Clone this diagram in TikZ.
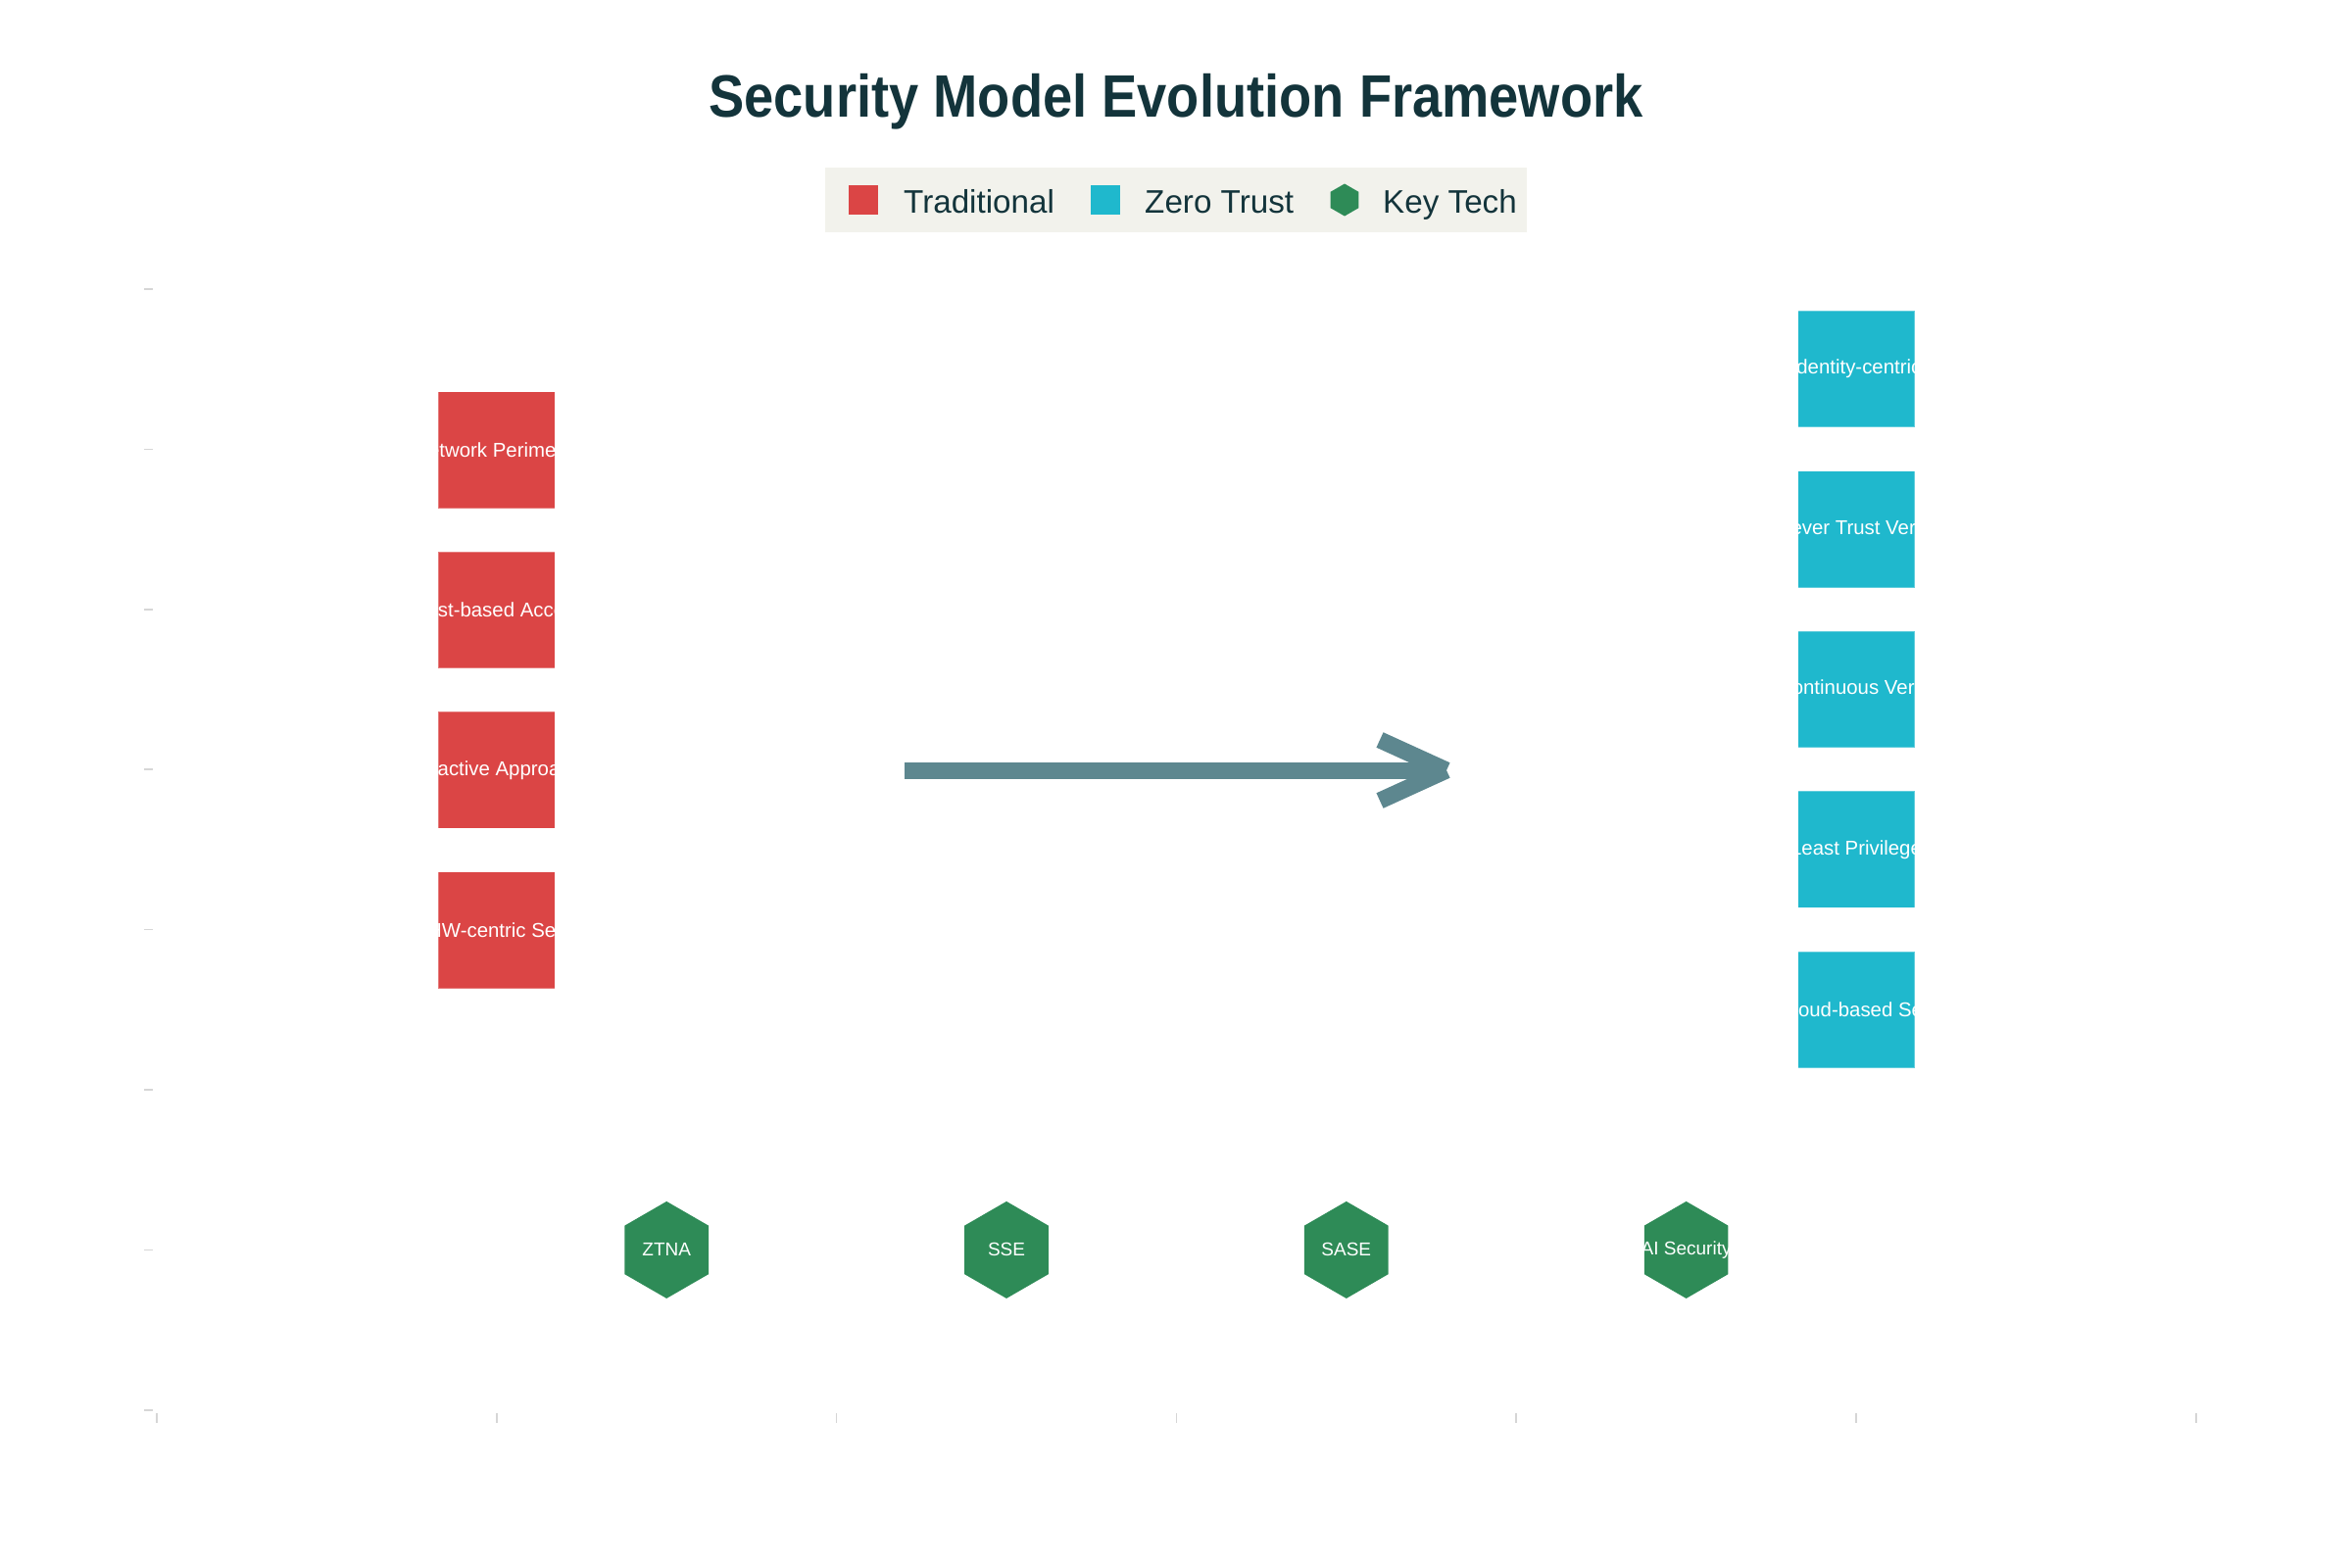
\documentclass[tikz,border=0pt]{standalone}
\usepackage{fontspec}
\setmainfont{Liberation Sans}
\usepackage{graphicx}
\usetikzlibrary{calc}
\definecolor{tradred}{HTML}{DB4545}
\definecolor{ztteal}{HTML}{1FB8CD}
\definecolor{techgreen}{HTML}{2E8B57}
\definecolor{arrowcol}{HTML}{5D878F}
\definecolor{titlecol}{HTML}{13343B}
\definecolor{legendbg}{HTML}{F2F2EC}
\definecolor{tickgray}{HTML}{D6D6D6}
\newcommand{\techhex}[3]{%
  \path[#3] ($(#1)+(90:#2)$) -- ($(#1)+(150:#2)$) -- ($(#1)+(210:#2)$) --
    ($(#1)+(270:#2)$) -- ($(#1)+(330:#2)$) -- ($(#1)+(30:#2)$) -- cycle;}
\begin{document}
\begin{tikzpicture}[x=1pt,y=-1pt,
  redbox/.style={rectangle, fill=tradred, draw=white, draw opacity=0.3, line width=1.5pt,
    minimum width=119pt, minimum height=119pt, inner sep=0pt},
  tealbox/.style={redbox, fill=ztteal},
  boxlabel/.style={text=white, font=\fontsize{20.4}{24}\selectfont, inner sep=0pt},
  hexlabel/.style={text=white, font=\fontsize{19}{22}\selectfont, inner sep=0pt},
  legendtext/.style={text=titlecol, font=\fontsize{33.2}{38}\selectfont, inner sep=0pt, anchor=base west},
  tickmark/.style={draw=tickgray, line width=1.5pt},
  arrowline/.style={draw=arrowcol, line width=17pt, line cap=butt},
  hexfill/.style={fill=techgreen}
]
\useasboundingbox (0,0) rectangle (2400,1600);
\fill[white] (0,0) rectangle (2400,1600);

% title
\node[text=titlecol, font=\fontsize{61}{66}\selectfont\bfseries, inner sep=0pt, anchor=base]
  (title) at (1200,120) {\scalebox{0.89}[1]{Security Model Evolution Framework}};

% legend
\node[fill=legendbg, minimum width=716pt, minimum height=66pt, inner sep=0pt] (legend) at (1200,204) {};
\node[fill=tradred, minimum size=30pt, inner sep=0pt] (lg1) at (881,204) {};
\node[legendtext] (lt1) at (922,217) {Traditional};
\node[fill=ztteal, minimum size=30pt, inner sep=0pt] (lg2) at (1128,204) {};
\node[legendtext] (lt2) at (1168,217) {Zero Trust};
\coordinate (lg3) at (1372,204);
\techhex{lg3}{16.5}{hexfill}
\node[legendtext] (lt3) at (1411,217) {Key Tech};

% axis ticks
\foreach \k in {0,...,7}
  \draw[tickmark] (147,{295+163.4*\k}) -- (156,{295+163.4*\k});
\foreach \u in {0,...,6}
  \draw[tickmark] ({160+346.8*\u},1442) -- ({160+346.8*\u},1452);

% traditional boxes
\foreach \n/\yy/\txt in {r1/459/Network Perimeter, r2/622.4/Trust-based Access,
    r3/785.8/Reactive Approach, r4/949.2/HW-centric Sec}{
  \node[redbox] (\n) at (506.8,\yy) {};
  \begin{scope}
    \clip (\n.south west) rectangle (\n.north east);
    \node[boxlabel] at (\n.center) {\txt};
  \end{scope}
}

% zero trust boxes
\foreach \n/\yy/\txt in {z1/376.7/Identity-centric, z2/540.1/Never Trust Verify,
    z3/703.5/Continuous Verify, z4/866.9/Least Privilege, z5/1030.3/Cloud-based Sec}{
  \node[tealbox] (\n) at (1894,\yy) {};
  \begin{scope}
    \clip (\n.south west) rectangle (\n.north east);
    \node[boxlabel] at (\n.center) {\txt};
  \end{scope}
}

% key tech hexagons
\foreach \n/\xx/\txt in {h1/680.2/ZTNA, h2/1027/SSE, h3/1373.8/SASE, h4/1720.6/AI Security}{
  \coordinate (\n) at (\xx,1275.4);
  \techhex{\n}{49.5}{hexfill}
  \node[hexlabel] (\n t) at (\n) {\txt};
}

% evolution arrow
\coordinate (arrowstart) at (923.4,786);
\coordinate (arrowend) at (1470,786);
\coordinate (barbup) at (1408,755);
\coordinate (barbdn) at (1408,817);
\coordinate (barbtip) at (1476,786);
\draw[arrowline] (arrowstart) -- (arrowend);
\draw[arrowline] (barbup) -- (barbtip);
\draw[arrowline] (barbdn) -- (barbtip);
\end{tikzpicture}
\end{document}
